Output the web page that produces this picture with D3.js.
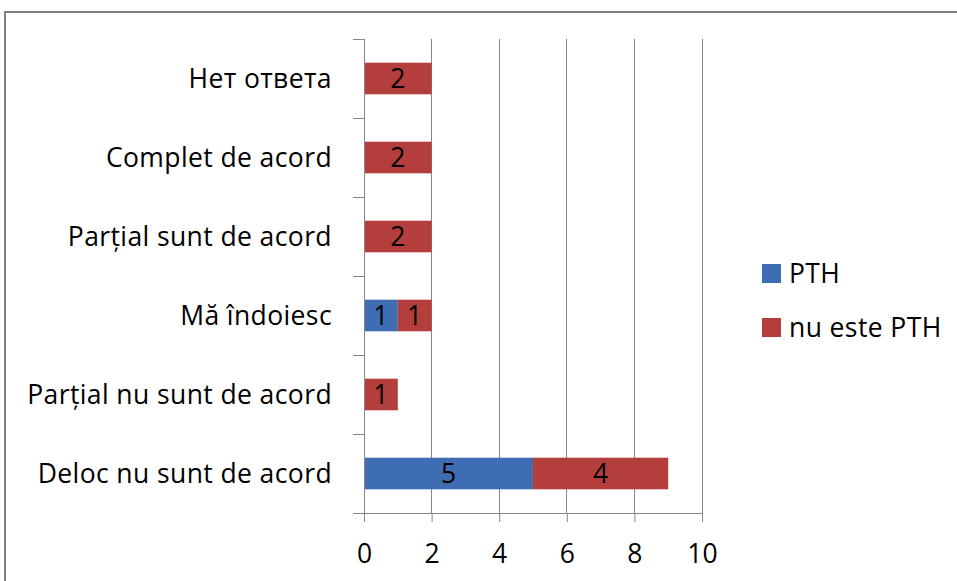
<!DOCTYPE html>
<html><head><meta charset="utf-8">
<script src="https://cdn.jsdelivr.net/npm/d3@7"></script>
<style>body{margin:0;background:#fff}svg{display:block}</style>
</head><body>
<svg id="c" width="957" height="581"></svg>
<script>
const categories = ["Нет ответа","Complet de acord","Parțial sunt de acord","Mă îndoiesc","Parțial nu sunt de acord","Deloc nu sunt de acord"];
const seriesNames = ["PTH","nu este PTH"];
const pth = [0,0,0,1,0,5];
const nuPth = [2,2,2,1,1,4];
const xTicks = [0,2,4,6,8,10];
const colors = ["#3E6DB3","#B33E3C"];

(function(){
const svg = d3.select("#c");
const font = "'Open Sans', Lato, sans-serif";
const fs = 26.5, ls = 0.4;
const pL = 364, pR = 702, pT = 39, pB = 513;
const x = d3.scaleLinear().domain([0,10]).range([pL,pR]);
const y = d3.scaleBand().domain(categories).range([pT,pB]).paddingInner(0.6).paddingOuter(0.3);
const yb = d3.scaleBand().domain(categories).range([pT,pB]);

// outer frame
svg.append("rect").attr("x",5).attr("y",12).attr("width",1000).attr("height",1000)
  .attr("fill","none").attr("stroke","#808080").attr("stroke-width",2);

// gridlines
svg.append("g").selectAll("line").data(xTicks.slice(1)).join("line")
  .attr("x1",d=>x(d)).attr("x2",d=>x(d)).attr("y1",pT).attr("y2",pB)
  .attr("stroke","#868686").attr("stroke-width",1).attr("shape-rendering","crispEdges");

// stacked data
const rows = categories.map((c,i)=>({cat:c, "PTH":pth[i], "nu este PTH":nuPth[i]}));
const stack = d3.stack().keys(seriesNames)(rows);
const g = svg.append("g");
stack.forEach((s,si)=>{
  g.append("g").selectAll("rect").data(s).join("rect")
    .attr("x",d=>x(d[0])).attr("width",d=>x(d[1])-x(d[0]))
    .attr("y",d=>y(d.data.cat)).attr("height",y.bandwidth())
    .attr("fill",colors[si]);
  g.append("g").selectAll("text").data(s.filter(d=>d[1]-d[0]>0)).join("text")
    .attr("x",d=>(x(d[0])+x(d[1]))/2).attr("y",d=>y(d.data.cat)+y.bandwidth()/2)
    .attr("dy","0.36em").attr("text-anchor","middle")
    .attr("font-family",font).attr("font-size",fs).attr("fill","#000")
    .text(d=>d[1]-d[0]);
});

// y axis
const yAxis = svg.append("g");
yAxis.append("line").attr("x1",pL).attr("x2",pL).attr("y1",pT).attr("y2",pB)
  .attr("stroke","#868686").attr("shape-rendering","crispEdges");
const bounds = categories.map(c=>yb(c)).concat([pB]);
yAxis.selectAll("line.t").data(bounds).join("line").attr("class","t")
  .attr("x1",pL-11).attr("x2",pL).attr("y1",d=>d).attr("y2",d=>d)
  .attr("stroke","#868686").attr("shape-rendering","crispEdges");
yAxis.selectAll("text").data(categories).join("text")
  .attr("x",332).attr("y",d=>yb(d)+yb.bandwidth()/2).attr("dy","0.36em")
  .attr("text-anchor","end").attr("font-family",font).attr("font-size",fs)
  .attr("letter-spacing",ls).attr("fill","#000")
  .text(d=>d);

// x axis
const xAxis = svg.append("g").attr("transform",`translate(0,${pB})`)
  .call(d3.axisBottom(x).tickValues(xTicks).tickSize(9).tickSizeOuter(0).tickPadding(22));
xAxis.select(".domain").attr("stroke","#868686");
xAxis.selectAll(".tick line").attr("stroke","#868686");
xAxis.selectAll("text").attr("font-family",font).attr("font-size",fs).attr("fill","#000");

// legend
const lg = svg.append("g");
seriesNames.forEach((n,i)=>{
  const ly = 273.5 + i*54;
  lg.append("rect").attr("x",762).attr("y",ly-9.5).attr("width",19).attr("height",19).attr("fill",colors[i]);
  lg.append("text").attr("x",789).attr("y",ly).attr("dy","0.36em")
    .attr("font-family",font).attr("font-size",fs).attr("letter-spacing",ls).attr("fill","#000").text(n);
});
})();
</script>
</body></html>
